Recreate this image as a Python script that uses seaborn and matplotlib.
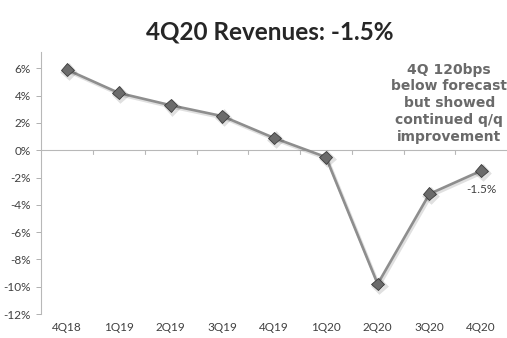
import matplotlib
matplotlib.use("Agg")
import matplotlib.pyplot as plt
import matplotlib.patheffects as pe
import seaborn as sns
import pandas as pd

# Quarterly revenue growth (%)
quarters = ["4Q18", "1Q19", "2Q19", "3Q19", "4Q19", "1Q20", "2Q20", "3Q20", "4Q20"]
revenue_growth = [5.9, 4.2, 3.3, 2.5, 0.9, -0.5, -9.8, -3.2, -1.5]
y_ticks = [6, 4, 2, 0, -2, -4, -6, -8, -10, -12]
title_text = "4Q20 Revenues: -1.5%"
note_text = "4Q 120bps\nbelow forecast\nbut showed\ncontinued q/q\nimprovement"

sns.set_theme(style="white")
plt.rcParams["font.family"] = ["Lato", "DejaVu Sans"]

df = pd.DataFrame({"quarter": quarters, "growth": revenue_growth})

fig = plt.figure(figsize=(5.07, 3.38), dpi=100)
ax = fig.add_axes([0.0815, 0.071, 0.9185, 0.775])

shadow = [pe.SimpleLineShadow(offset=(1.0, -1.3), shadow_color="#000000", alpha=0.12, linewidth=2.4), pe.Normal()]
sns.lineplot(data=df, x="quarter", y="growth", ax=ax, sort=False,
             color="#8e8e8e", linewidth=1.9, marker="D", markersize=6.6,
             markerfacecolor="#6b6b6b", markeredgecolor="#3a3a3a", markeredgewidth=0.6,
             path_effects=shadow)

ax.set_xlim(-0.5, len(quarters) - 0.5)
ax.set_ylim(-12, 7.2)
ax.set_xlabel("")
ax.set_ylabel("")

# Y axis: percent labels, small outward ticks
ax.set_yticks(y_ticks)
ax.set_yticklabels([f"{v}%" for v in y_ticks])
ax.tick_params(axis="y", length=3.5, width=0.7, color="#b0b0b0", direction="out",
               labelsize=8.5, labelcolor="#404040", pad=4, left=True)
ax.tick_params(axis="x", length=0, labelsize=8.5, labelcolor="#404040", pad=6)

for side in ["top", "right", "bottom"]:
    ax.spines[side].set_visible(False)
ax.spines["left"].set_color("#b8b8b8")
ax.spines["left"].set_linewidth(0.8)

# Category axis crossing at zero with boundary ticks
ax.axhline(0, color="#b8b8b8", linewidth=0.8, zorder=0)
for b in range(1, len(quarters)):
    ax.plot([b - 0.5, b - 0.5], [0, -0.25], color="#b8b8b8", linewidth=0.8, zorder=0)

# Value label on the last point
ax.annotate(f"{revenue_growth[-1]}%", xy=(len(quarters) - 1, revenue_growth[-1]),
            xytext=(0, -13.5), textcoords="offset points", ha="center", va="center",
            fontsize=8.5, color="#404040")

fig.text(0.532, 0.905, title_text, ha="center", va="center",
         fontsize=17.5, fontweight="bold", color="#262626", family=["Lato", "DejaVu Sans"])

fig.text(0.886, 0.695, note_text, ha="center", va="center", fontsize=10,
         fontweight="bold", color="#6a6a6a", linespacing=1.25,
         family=["DejaVu Sans"])

fig.savefig("out.png", dpi=100)
